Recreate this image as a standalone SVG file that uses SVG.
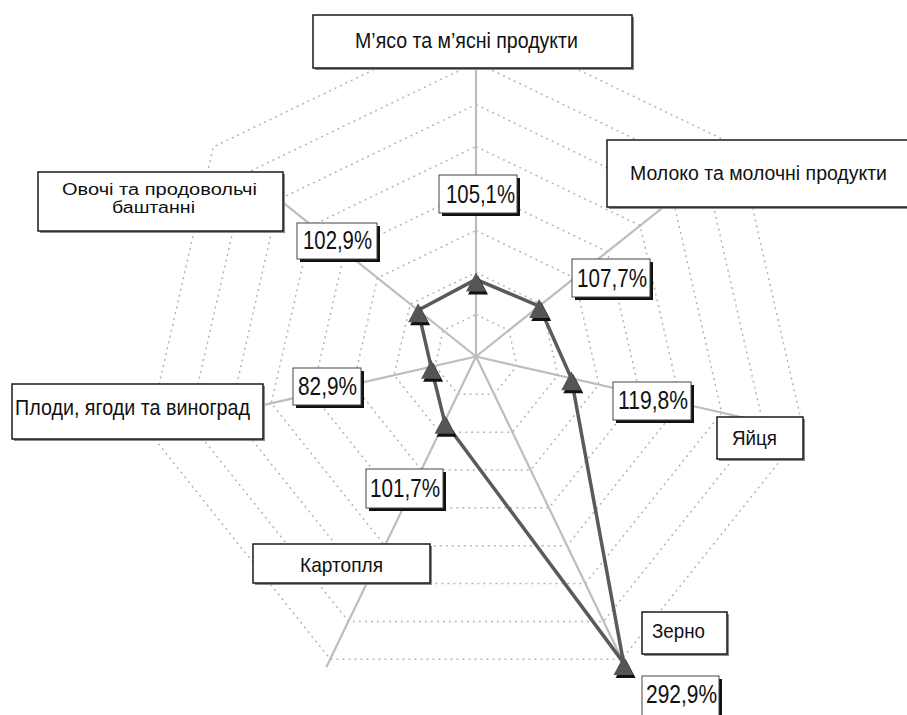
<svg xmlns="http://www.w3.org/2000/svg" width="907" height="715" viewBox="0 0 907 715">
<style>
.grid{fill:none;stroke:#b4b4b4;stroke-width:1.5;stroke-dasharray:2 4}
.axis{stroke:#bdbdbd;stroke-width:2.2;fill:none}
.series{fill:none;stroke:#5a5a5a;stroke-width:3.5;stroke-linejoin:round}
.mk{fill:#555555}
.mks{fill:#111111}
.cbox{fill:#ffffff;stroke:#1a1a1a;stroke-width:1.5}
.cshadow{fill:#8a8a8a}
.vbox{fill:#ffffff;stroke:#444444;stroke-width:1}
.vshadow{fill:#111111}
.ct{font-family:"Liberation Sans",Arial,sans-serif;font-size:21px;fill:#111111}
.ct2{font-family:"Liberation Sans",Arial,sans-serif;font-size:16px;fill:#111111}
.vt{font-family:"Liberation Sans",Arial,sans-serif;font-size:25px;fill:#111111}
</style>
<defs>
<path id="tri" d="M0,-7 L10,12 L-10,12 Z"/>
</defs>
<rect width="907" height="715" fill="#ffffff"/>
<g id="grid">
<polygon class="grid" points="476,314.5 508.84,330.31 516.95,365.85 494.22,394.34 457.78,394.34 435.05,365.85 443.16,330.31"/>
<polygon class="grid" points="476,272.5 541.67,304.13 557.89,375.19 512.45,432.18 439.55,432.18 394.11,375.19 410.33,304.13"/>
<polygon class="grid" points="476,230.5 574.51,277.94 598.84,384.54 530.67,470.03 421.33,470.03 353.16,384.54 377.49,277.94"/>
<polygon class="grid" points="476,188.5 607.34,251.75 639.78,393.88 548.9,507.87 403.1,507.87 312.22,393.88 344.66,251.75"/>
<polygon class="grid" points="476,146.5 640.18,225.56 680.73,403.23 567.12,545.71 384.88,545.71 271.27,403.23 311.82,225.56"/>
<polygon class="grid" points="476,104.5 673.02,199.38 721.68,412.57 585.34,583.55 366.66,583.55 230.32,412.57 278.98,199.38"/>
<polygon class="grid" points="476,62.5 705.85,173.19 762.62,421.92 603.57,621.39 348.43,621.39 189.38,421.92 246.15,173.19"/>
<polygon class="grid" points="476,20.5 738.69,147 803.57,431.26 621.79,659.24 330.21,659.24 148.43,431.26 213.31,147"/>
</g>
<g id="connectors">
<line class="axis" x1="476" y1="356.5" x2="476" y2="66"/>
<line class="axis" x1="476" y1="356.5" x2="694.9" y2="181.9"/>
<line class="axis" x1="476" y1="356.5" x2="744.1" y2="417.7"/>
<line class="axis" x1="476" y1="356.5" x2="623.5" y2="662.8"/>
<line class="axis" x1="476" y1="356.5" x2="326.3" y2="667.3"/>
<line class="axis" x1="476" y1="356.5" x2="256.6" y2="406.6"/>
<line class="axis" x1="476" y1="356.5" x2="280.6" y2="200.6"/>
<polygon class="series" points="476,279.4 539.2,306.1 571.3,378.2 623.6,662.9 444.6,421.7 431.1,366.8 418.1,310.3"/>
</g>
<g id="markers">
<use href="#tri" class="mks" x="478" y="282.4"/><use href="#tri" class="mk" x="476" y="279.4"/>
<use href="#tri" class="mks" x="541.2" y="309.1"/><use href="#tri" class="mk" x="539.2" y="306.1"/>
<use href="#tri" class="mks" x="573.3" y="381.2"/><use href="#tri" class="mk" x="571.3" y="378.2"/>
<use href="#tri" class="mks" x="625.6" y="665.9"/><use href="#tri" class="mk" x="623.6" y="662.9"/>
<use href="#tri" class="mks" x="446.6" y="424.7"/><use href="#tri" class="mk" x="444.6" y="421.7"/>
<use href="#tri" class="mks" x="433.1" y="369.8"/><use href="#tri" class="mk" x="431.1" y="366.8"/>
<use href="#tri" class="mks" x="420.1" y="313.3"/><use href="#tri" class="mk" x="418.1" y="310.3"/>
</g>
<g id="node-myaso">
<rect class="cshadow" x="315" y="17" width="319" height="53"/>
<rect class="cbox" x="313" y="15" width="319" height="53"/>
<text class="ct" x="355" y="48" style="font-size:22px" textLength="223" lengthAdjust="spacingAndGlyphs">М’ясо та м’ясні продукти</text>
</g>
<g id="node-moloko">
<rect class="cshadow" x="609" y="142" width="299" height="67"/>
<rect class="cbox" x="607" y="140" width="301" height="67"/>
<text class="ct" x="630" y="180" style="font-size:20px" textLength="257" lengthAdjust="spacingAndGlyphs">Молоко та молочні продукти</text>
</g>
<g id="node-yaytsya">
<rect class="cshadow" x="719" y="419" width="86" height="42"/>
<rect class="cbox" x="717" y="417" width="86" height="42"/>
<text class="ct" x="732" y="445" textLength="45" lengthAdjust="spacingAndGlyphs">Яйця</text>
</g>
<g id="node-zerno">
<rect class="cshadow" x="644" y="614" width="85" height="42"/>
<rect class="cbox" x="642" y="612" width="85" height="42"/>
<text class="ct" x="652" y="638" style="font-size:20px" textLength="53" lengthAdjust="spacingAndGlyphs">Зерно</text>
</g>
<g id="node-kartoplya">
<rect class="cshadow" x="255" y="546" width="177" height="39"/>
<rect class="cbox" x="253" y="544" width="177" height="39"/>
<text class="ct" x="300" y="571.5" textLength="83" lengthAdjust="spacingAndGlyphs">Картопля</text>
</g>
<g id="node-plody">
<rect class="cshadow" x="14" y="386" width="251" height="55"/>
<rect class="cbox" x="12" y="384" width="251" height="55"/>
<text class="ct" x="15" y="415" style="font-size:22px" textLength="235" lengthAdjust="spacingAndGlyphs">Плоди, ягоди та виноград</text>
</g>
<g id="node-ovochi">
<rect class="cshadow" x="40" y="174" width="245" height="59"/>
<rect class="cbox" x="38" y="172" width="245" height="59"/>
<text class="ct2" x="62" y="194.5" textLength="195" lengthAdjust="spacingAndGlyphs">Овочі та продовольчі</text>
<text class="ct2" x="112" y="212.5" textLength="83" lengthAdjust="spacingAndGlyphs">баштанні</text>
</g>
<g id="value-myaso">
<rect class="vshadow" x="442" y="178" width="78" height="38"/>
<rect class="vbox" x="439" y="175" width="78" height="38"/>
<text class="vt" x="446" y="203" textLength="69" lengthAdjust="spacingAndGlyphs">105,1%</text>
</g>
<g id="value-ovochi">
<rect class="vshadow" x="300" y="226" width="80" height="36"/>
<rect class="vbox" x="297" y="223" width="80" height="36"/>
<text class="vt" x="303" y="249" textLength="69" lengthAdjust="spacingAndGlyphs">102,9%</text>
</g>
<g id="value-moloko">
<rect class="vshadow" x="575" y="262" width="78" height="38"/>
<rect class="vbox" x="572" y="259" width="78" height="38"/>
<text class="vt" x="577" y="286.5" textLength="70" lengthAdjust="spacingAndGlyphs">107,7%</text>
</g>
<g id="value-plody">
<rect class="vshadow" x="296" y="371" width="68" height="37"/>
<rect class="vbox" x="293" y="368" width="68" height="37"/>
<text class="vt" x="298" y="395" textLength="59" lengthAdjust="spacingAndGlyphs">82,9%</text>
</g>
<g id="value-yaytsya">
<rect class="vshadow" x="616" y="385" width="78" height="38"/>
<rect class="vbox" x="613" y="382" width="78" height="38"/>
<text class="vt" x="618" y="409" textLength="70" lengthAdjust="spacingAndGlyphs">119,8%</text>
</g>
<g id="value-kartoplya">
<rect class="vshadow" x="369" y="472" width="77" height="39"/>
<rect class="vbox" x="366" y="469" width="77" height="39"/>
<text class="vt" x="370" y="497" textLength="70" lengthAdjust="spacingAndGlyphs">101,7%</text>
</g>
<g id="value-zerno">
<rect class="vshadow" x="645" y="679" width="77" height="40"/>
<rect class="vbox" x="642" y="676" width="77" height="40"/>
<text class="vt" x="646" y="703" textLength="71" lengthAdjust="spacingAndGlyphs">292,9%</text>
</g>
</svg>
